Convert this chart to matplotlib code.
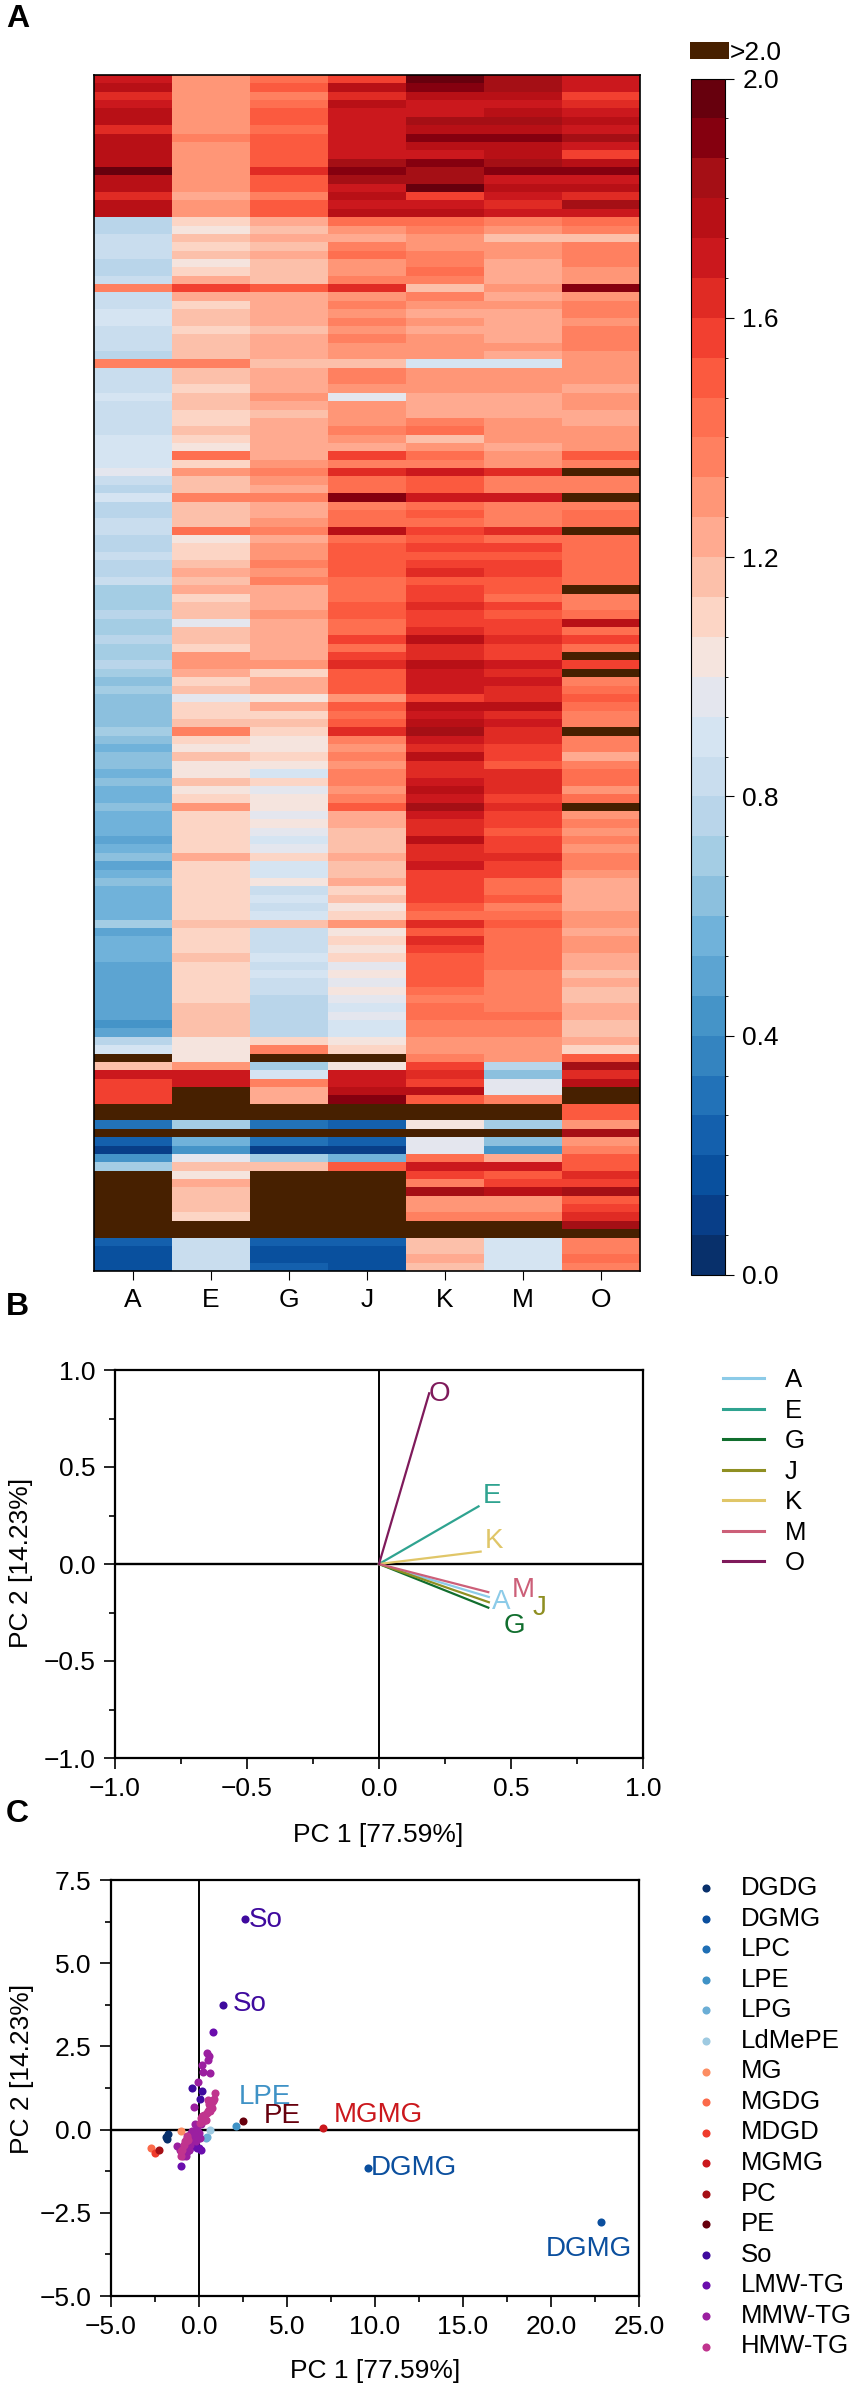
import matplotlib
matplotlib.use("Agg")
import matplotlib.pyplot as plt
import numpy as np
from matplotlib.colors import ListedColormap, BoundaryNorm
from matplotlib.patches import Rectangle
from matplotlib.ticker import FixedLocator

plt.rcParams['font.family'] = ['Liberation Sans', 'DejaVu Sans']

W, H = 851, 2392

# heatmap classes, 0-29 = colorbar band, 30 = ">2.0"
heat_A = [25,26,24,25,26,26,24,26,26,26, 26,29,26,26,24,26,26,11,11,12,
          12,12,11,11,12,20,12,12,13,13, 12,12,12,11,20,12,12,12,13,12,
          12,12,12,13,13,13,13,14,12,11, 13,11,11,12,12,11,11,12,11,11,
          12,10,10,10,11,10,10,11,10,10, 11,10,9,10,9,9,9,9,10,9,
          8,9,9,8,9,8,8,9,8,8, 8,7,8,9,7,8,9,8,8,8,
          8,10,7,8,8,8,7,7,7,7, 7,7,7,6,7,11,13,30,17,25,
          23,23,23,30,30,4,30,3,1,6, 10,30,30,30,30,30,30,30,30,3,
          2,2,2]
heat_E = [19,19,19,19,19,19,19,20,19,19, 19,19,19,19,18,19,19,16,15,17,
          16,17,15,16,18,23,18,16,17,17, 16,17,17,17,20,17,17,16,17,17,
          16,16,17,16,15,21,16,19,17,17, 20,17,17,17,21,15,16,16,17,18,
          17,18,16,17,17,14,17,17,16,19, 19,18,16,17,14,16,16,17,20,16,
          15,17,15,15,17,15,16,19,16,16, 16,16,16,18,16,16,16,16,16,16,
          16,17,16,16,16,17,16,16,16,16, 16,17,17,17,17,15,15,15,19,25,
          25,30,30,30,30,10,30,8,6,14, 17,15,18,17,17,17,16,30,30,12,
          12,12,12]
heat_G = [21,22,20,21,22,22,21,22,22,22, 22,24,22,22,20,22,22,18,17,18,
          17,18,17,17,17,22,18,18,18,18, 17,18,18,18,17,18,18,18,19,18,
          17,18,18,18,18,18,19,20,19,18, 20,18,18,19,20,18,19,19,20,19,
          20,18,18,18,19,18,18,18,18,18, 19,16,18,18,15,18,16,17,16,15,
          15,16,15,13,16,14,15,15,14,15, 14,13,14,16,13,13,15,12,13,12,
          13,17,12,12,12,13,12,13,12,12, 11,11,11,11,11,16,20,30,10,13,
          20,18,18,30,30,4,30,4,1,10, 17,30,30,30,30,30,30,30,30,3,
          2,2,3]
heat_J = [23,26,24,26,25,25,25,25,25,25, 27,28,27,25,26,25,26,21,19,18,
          20,21,19,19,20,24,19,20,19,20, 19,20,19,19,17,20,20,19,14,19,
          19,19,20,19,18,23,20,24,21,21, 28,20,21,21,26,21,22,22,22,22,
          21,21,21,22,22,21,21,23,21,23, 24,22,22,22,19,22,21,22,24,20,
          19,20,19,20,20,19,20,22,18,18, 17,17,17,18,17,17,18,16,17,15,
          16,19,15,16,15,16,14,15,14,15, 14,13,14,13,13,15,16,30,15,25,
          25,26,28,30,30,3,30,3,1,8, 22,30,30,30,30,30,30,30,30,3,
          2,2,2]
heat_K = [29,28,26,25,25,27,26,28,26,25, 28,27,27,29,23,25,26,21,20,19,
          19,20,20,21,20,17,20,19,18,19, 18,19,19,19,13,19,19,19,18,18,
          18,20,21,17,19,21,20,25,22,22, 25,21,22,21,23,22,23,22,23,24,
          22,23,23,24,23,23,24,26,24,24, 26,25,25,25,23,26,25,26,27,25,
          24,26,24,24,25,26,25,27,25,24, 24,26,24,24,25,23,23,23,23,22,
          21,24,22,24,23,22,22,22,22,21, 20,21,21,20,20,19,19,20,23,24,
          23,26,22,30,30,15,30,14,14,21, 25,23,20,27,19,19,20,30,30,17,
          17,18,17]
heat_M = [27,27,26,25,26,27,26,28,26,26, 27,28,25,26,25,24,25,20,19,17,
          19,19,18,18,18,19,18,19,18,18, 18,18,19,18,13,19,19,19,18,18,
          18,19,19,19,18,19,19,24,20,20, 25,20,20,20,24,21,23,22,23,23,
          22,22,21,23,22,23,23,24,23,23, 25,24,25,24,24,26,24,25,24,24,
          23,23,22,24,24,24,23,24,23,23, 22,23,23,24,23,23,21,21,22,20,
          21,22,21,21,21,21,21,20,20,20, 20,20,21,20,20,19,19,19,11,9,
          14,14,20,30,30,10,30,9,6,18, 25,22,23,26,19,19,20,30,30,13,
          13,13,13]
heat_O = [25,25,23,24,25,26,25,27,25,23, 26,28,25,26,24,27,25,21,20,17,
          20,20,20,19,19,28,19,20,20,19, 20,20,20,19,19,19,19,18,19,19,
          18,18,19,19,19,22,20,30,20,20, 30,20,21,21,30,21,21,21,21,21,
          21,30,20,20,21,26,21,23,21,30, 23,30,20,21,22,21,20,20,30,20,
          20,18,20,21,21,19,21,30,19,20, 19,20,19,20,20,19,18,18,18,18,
          19,19,18,19,19,18,18,17,18,17, 17,18,18,17,17,18,16,22,27,24,
          26,30,30,22,22,19,27,19,20,22, 22,24,23,27,22,23,24,27,30,20,
          20,21,20]
samples = ['A', 'E', 'G', 'J', 'K', 'M', 'O']

band_colors = ['#08306b', '#083e88', '#09509e', '#1460ad', '#2272b8', '#3484c0',
               '#4594c8', '#5ca4d2', '#70b2da', '#8cc0de', '#a4cde4', '#b9d5ea',
               '#c9ddee', '#d5e4f2', '#e4e6ee', '#f5e4de', '#fcd5c5', '#fcc0aa',
               '#ffaa90', '#ff9677', '#ff8060', '#fe6f50', '#fb5a3f', '#f24030',
               '#e02b24', '#cb181d', '#b81016', '#a50f15', '#85000f', '#67000d']
over_color = '#472000'

# loadings, panel B
load_x = [0.416, 0.377, 0.414, 0.416, 0.385, 0.414, 0.190]
load_y = [-0.170, 0.297, -0.225, -0.197, 0.064, -0.145, 0.880]
load_colors = ['#8ccbe8', '#2fa390', '#116e2e', '#8f8f22', '#e0c668', '#cc5f78', '#7f1a5b']
load_label_x = [0.463, 0.428, 0.514, 0.607, 0.434, 0.545, 0.229]
load_label_y = [-0.197, 0.352, -0.322, -0.228, 0.116, -0.133, 0.878]

# scores, panel C
score_groups = {
    'DGDG': ([-1.84, -1.90, -1.74], [-0.28, -0.22, -0.13], '#08306b'),
    'DGMG': ([9.6, 22.85], [-1.15, -2.77], '#0b4f9e'),
    'LPC': ([], [], '#1f6fb5'),
    'LPE': ([2.12], [0.11], '#3f92c6'),
    'LPG': ([0.47, 0.40], [-0.22, -0.24], '#6baed6'),
    'LdMePE': ([0.62], [-0.01], '#9ecae1'),
    'MG': ([-1.02], [-0.03], '#fc8d62'),
    'MGDG': ([-2.75], [-0.56], '#fb6a4a'),
    'MDGD': ([-2.52], [-0.70], '#ef3b2c'),
    'MGMG': ([7.06], [0.05], '#cb181d'),
    'PC': ([-2.29], [-0.61], '#a50f15'),
    'PE': ([2.50], [0.27], '#67000d'),
    'So': ([2.60, 1.36, -0.42, 0.19, 0.04], [6.33, 3.73, 1.24, 1.15, 0.93], '#3f0a9e'),
    'LMW-TG': ([0.81, -1.02, 0.09, -0.13, -0.38, -0.75, -0.55, -0.3, 0.0],
               [2.93, -1.08, -0.60, -0.55, -0.50, -0.70, -0.62, -0.45, -0.55], '#6a0dad'),
    'MMW-TG': ([0.47, 0.57, 0.53, 0.15, 0.23, 0.62, -0.06, -0.27, -0.25, 0.09,
                -0.19, -0.47, -0.38, -0.66, -0.85, -1.27, -1.04, -0.76, -0.57,
                -0.19, 0.0, -0.4, -0.1, -0.6, -0.9, -1.1, -0.5, -0.25, 0.05,
                -0.75, -0.9],
               [2.30, 2.20, 2.09, 1.95, 1.72, 1.71, 1.42, 0.69, 0.18, 0.17,
                -0.15, -0.10, -0.30, -0.35, -0.45, -0.48, -0.65, -0.80, -0.60,
                -0.35, -0.10, -0.05, 0.0, -0.2, -0.55, -0.6, -0.45, -0.25, -0.25,
                -0.45, -0.8], '#9b1fa0'),
    'HMW-TG': ([0.91, 0.85, 0.80, 0.51, 0.66, 0.57, 0.44, 0.19, 0.38, 0.09, 0.76,
                0.25, 0.60, -1.04, -0.85, -0.66, -0.95, -0.75, -0.8, -0.7, -0.6,
                -1.0, 0.3, 0.5, 0.65, 0.7, 0.35, 0.15, 0.05, 0.55],
               [1.10, 0.93, 0.85, 0.88, 0.75, 0.60, 0.50, 0.40, 0.30, 0.35, 0.65,
                0.25, 0.55, -0.80, -0.45, -0.25, -0.60, -0.35, -0.35, -0.2, -0.3,
                -0.65, 0.45, 0.55, 0.7, 0.85, 0.3, 0.3, 0.2, 0.78], '#c0348e'),
}
score_notes = [('So', 2.84, 6.31, 'So'), ('So', 1.93, 3.76, 'So'), ('LPE', 2.24, 0.98, 'LPE'),
               ('PE', 3.66, 0.41, 'PE'), ('MGMG', 7.68, 0.44, 'MGMG'),
               ('DGMG', 9.78, -1.15, 'DGMG'), ('DGMG', 19.7, -3.60, 'DGMG')]

pc1_label = 'PC 1 [77.59%]'
pc2_label = 'PC 2 [14.23%]'
FS = 19
NOTE_FS = 20


def px_axes(left, top, right, bottom):
    return fig.add_axes([left / W, 1 - bottom / H, (right - left) / W, (bottom - top) / H])


def fig_text(x, y, s, **kw):
    fig.text(x / W, 1 - y / H, s, **kw)


def style_pca(ax, xmajor, xminor, ymajor, yminor, xlabels, ylabels):
    for side in ax.spines.values():
        side.set_linewidth(1.6)
    ax.axhline(0, color='black', lw=1.7, zorder=1)
    ax.axvline(0, color='black', lw=1.4, zorder=1)
    ax.set_xticks(xmajor)
    ax.set_xticklabels(xlabels)
    ax.set_yticks(ymajor)
    ax.set_yticklabels(ylabels)
    ax.xaxis.set_minor_locator(FixedLocator(xminor))
    ax.yaxis.set_minor_locator(FixedLocator(yminor))
    ax.tick_params(which='major', length=8, width=1.2, labelsize=FS, pad=6)
    ax.tick_params(which='minor', length=4, width=1.2)


fig = plt.figure(figsize=(W / 100, H / 100), dpi=100)

# ---- A: heatmap
heat = np.array([heat_A, heat_E, heat_G, heat_J, heat_K, heat_M, heat_O]).T
values = (heat + 0.5) / 15
levels = np.linspace(0, 2, 31)
cmap = ListedColormap(band_colors)
cmap.set_over(over_color)
norm = BoundaryNorm(levels, cmap.N, extend='neither', clip=False)

ax_heat = px_axes(94, 75, 640, 1271)
im = ax_heat.imshow(values, cmap=cmap, norm=norm, aspect='auto', interpolation='nearest')
ax_heat.set_xticks(range(len(samples)))
ax_heat.set_xticklabels(samples)
ax_heat.set_yticks([])
ax_heat.tick_params(axis='x', length=6.5, width=0.8, labelsize=FS, pad=6)
for side in ax_heat.spines.values():
    side.set_linewidth(1.2)

ax_cbar = px_axes(691, 78.5, 725, 1275)
cbar = fig.colorbar(im, cax=ax_cbar, ticks=[0, 0.4, 0.8, 1.2, 1.6, 2.0], extend='neither')
cbar.ax.set_yticklabels(['0.0', '0.4', '0.8', '1.2', '1.6', '2.0'])
cbar.ax.tick_params(length=6.5, width=0.8, labelsize=FS, pad=6)
cbar.outline.set_linewidth(0.8)

fig.add_artist(Rectangle((690 / W, 1 - 59 / H), 39 / W, 17 / H, transform=fig.transFigure,
                         facecolor=over_color, edgecolor='none'))
fig_text(730, 53, '>2.0', fontsize=FS, va='center', ha='left')

# ---- B: loadings
ax_b = px_axes(115, 1370, 643, 1758)
for name, x, y, c in zip(samples, load_x, load_y, load_colors):
    ax_b.plot([0, x], [0, y], color=c, lw=1.6, label=name, zorder=2)
for name, x, y, c in zip(samples, load_label_x, load_label_y, load_colors):
    ax_b.text(x, y, name, color=c, fontsize=NOTE_FS, ha='center', va='center')
ax_b.set_xlim(-1, 1)
ax_b.set_ylim(-1, 1)
style_pca(ax_b, [-1, -0.5, 0, 0.5, 1], [-0.75, -0.25, 0.25, 0.75],
          [-1, -0.5, 0, 0.5, 1], [-0.75, -0.25, 0.25, 0.75],
          ['\u22121.0', '\u22120.5', '0.0', '0.5', '1.0'],
          ['\u22121.0', '\u22120.5', '0.0', '0.5', '1.0'])
fig_text(378, 1835, pc1_label, fontsize=FS, ha='center', va='center')
fig_text(21, 1563, pc2_label, fontsize=FS, ha='center', va='center', rotation=90)
leg = ax_b.legend(loc='upper left', bbox_to_anchor=(723 / W, 1 - 1368 / H), bbox_transform=fig.transFigure,
                  frameon=False, fontsize=18.5, borderpad=0, borderaxespad=0, handlelength=1.6,
                  handletextpad=0.8, labelspacing=0.255)
for h in leg.get_lines():
    h.set_linewidth(2.2)

# ---- C: scores
ax_c = px_axes(111, 1880, 639, 2296)
for name, (xs, ys, c) in score_groups.items():
    ax_c.scatter(xs, ys, s=34, color=c, label=name, zorder=3, linewidths=0)
for group, x, y, s in score_notes:
    ax_c.text(x, y, s, color=score_groups[group][2], fontsize=NOTE_FS, ha='left', va='center', zorder=4)
ax_c.set_xlim(-5, 25)
ax_c.set_ylim(-5, 7.5)
style_pca(ax_c, [-5, 0, 5, 10, 15, 20, 25], [-2.5, 2.5, 7.5, 12.5, 17.5, 22.5],
          [-5, -2.5, 0, 2.5, 5, 7.5], [-3.75, -1.25, 1.25, 3.75, 6.25],
          ['\u22125.0', '0.0', '5.0', '10.0', '15.0', '20.0', '25.0'],
          ['\u22125.0', '\u22122.5', '0.0', '2.5', '5.0', '7.5'])
fig_text(375, 2371, pc1_label, fontsize=FS, ha='center', va='center')
fig_text(22, 2069, pc2_label, fontsize=FS, ha='center', va='center', rotation=90)
ax_c.legend(loc='upper left', bbox_to_anchor=(693 / W, 1 - 1876 / H), bbox_transform=fig.transFigure,
            frameon=False, fontsize=18.5, borderpad=0, borderaxespad=0, handlelength=1.0,
            handletextpad=0.85, labelspacing=0.255, scatterpoints=1)

# panel letters
fig_text(6, 19, 'A', fontsize=23, fontweight='bold', va='center')
fig_text(6, 1307, 'B', fontsize=23, fontweight='bold', va='center')
fig_text(6, 1814, 'C', fontsize=23, fontweight='bold', va='center')

fig.savefig('out.png', dpi=100)
